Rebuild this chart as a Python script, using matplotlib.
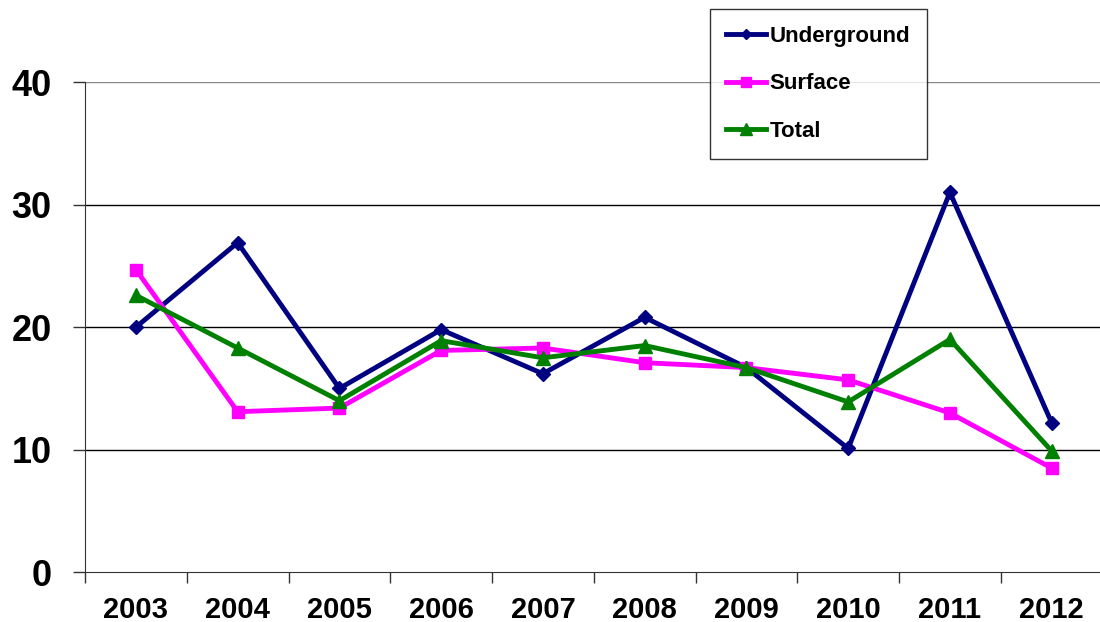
import matplotlib
matplotlib.use("Agg")
import matplotlib.pyplot as plt

years = ["2003", "2004", "2005", "2006", "2007", "2008", "2009", "2010", "2011", "2012"]
underground = [20.0, 26.9, 15.0, 19.8, 16.2, 20.8, 16.7, 10.1, 31.0, 12.2]
surface = [24.7, 13.1, 13.4, 18.1, 18.3, 17.1, 16.7, 15.7, 13.0, 8.5]
total = [22.6, 18.3, 14.0, 18.9, 17.5, 18.5, 16.7, 13.9, 19.0, 9.9]
yticks = [0, 10, 20, 30, 40]

plt.rcParams['font.family'] = ['Liberation Sans', 'DejaVu Sans']
fig = plt.figure(figsize=(11, 6.22), dpi=100)
ax = fig.add_axes([0.0773, 0.080, 0.925, 0.788])

x = list(range(len(years)))
ax.plot(x, underground, color='#000080', lw=3.5, marker='D', ms=7, label='Underground', zorder=3)
ax.plot(x, surface, color='#FF00FF', lw=3.5, marker='s', ms=9, label='Surface', zorder=3)
ax.plot(x, total, color='#008000', lw=3.5, marker='^', ms=10, label='Total', zorder=4)

ax.set_xlim(-0.5, len(years) - 0.5)
ax.set_ylim(0, 40)
ax.set_yticks(yticks)
ax.set_yticklabels([str(v) for v in yticks], fontsize=26, fontweight='bold')
ax.set_xticks(x)
ax.set_xticklabels(years, fontsize=21, fontweight='bold')
ax.set_xticks([i - 0.5 for i in range(len(years) + 1)], minor=True)
ax.tick_params(axis='x', which='major', length=0, pad=17)
ax.tick_params(axis='x', which='minor', length=8, width=1, color='#333333', direction='out')
ax.tick_params(axis='y', length=9, width=1, color='#333333', direction='out', pad=15)

for v in yticks[1:]:
    ax.axhline(v, color='#000000' if v < 40 else '#888888', lw=1, zorder=1)

for s in ['top', 'right']:
    ax.spines[s].set_visible(False)
ax.spines['left'].set_color('#333333')
ax.spines['bottom'].set_color('#333333')

leg = ax.legend(loc='upper left', bbox_to_anchor=(0.614, 1.149), borderaxespad=0, frameon=True,
                fancybox=False, edgecolor='black', prop={'weight': 'bold', 'size': 16},
                handlelength=1.8, handletextpad=0.15, labelspacing=1.2, borderpad=0.75,
                markerscale=0.8)
leg.get_frame().set_linewidth(1)
leg.set_zorder(5)

fig.savefig('out.png', dpi=100, facecolor='white')
